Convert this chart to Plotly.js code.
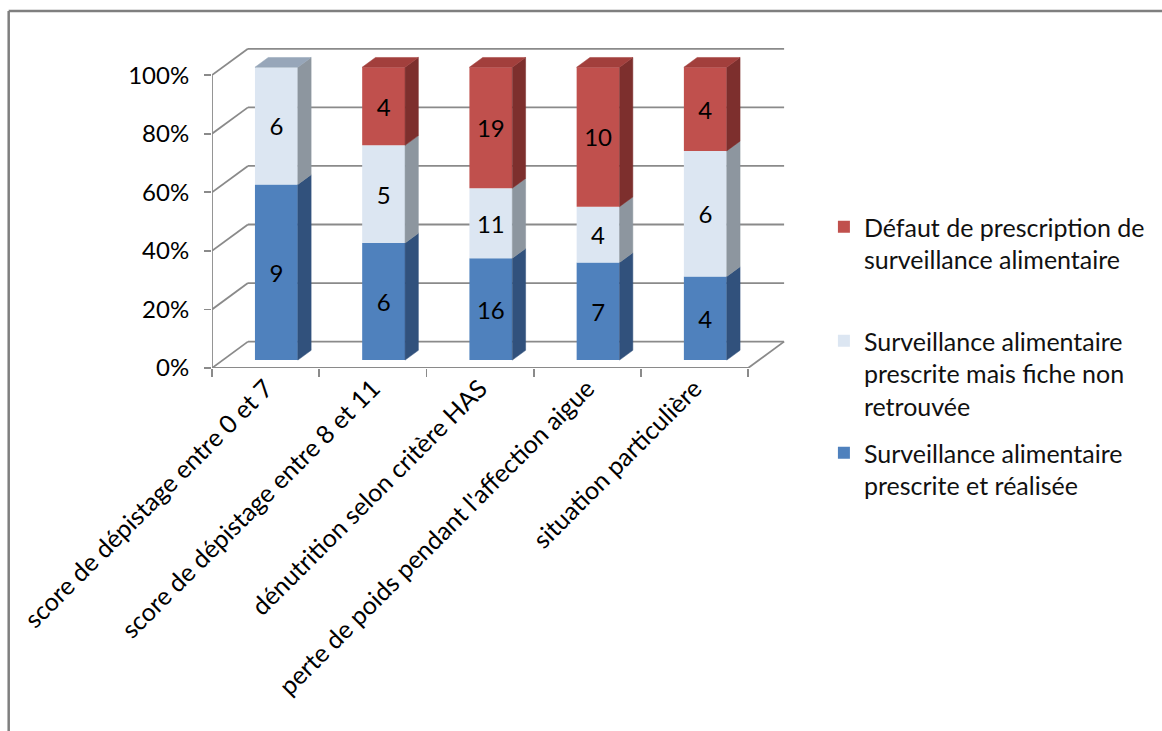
<!DOCTYPE html>
<html>
<head>
<meta charset="utf-8">
<script src="https://cdn.plot.ly/plotly-3.0.1.min.js"></script>
<style>html,body{margin:0;padding:0;background:#fff;}#chart{width:1162px;height:731px;}</style>
</head>
<body>
<div id="chart"></div>
<script>
// ---- data ----
const categories = [
  "score de dépistage entre 0 et 7",
  "score de dépistage entre 8 et 11",
  "dénutrition selon critère HAS",
  "perte de poids pendant l'affection aigue",
  "situation particulière"
];
const seriesNames = [
  "Surveillance alimentaire<br>prescrite et réalisée",
  "Surveillance alimentaire<br>prescrite mais fiche non<br>retrouvée",
  "Défaut de prescription de<br>surveillance alimentaire"
];
const realisee = [9, 6, 16, 7, 4];
const nonRetrouvee = [6, 5, 11, 4, 6];
const defaut = [0, 4, 19, 10, 4];
const yTickVals = [0, 20, 40, 60, 80, 100];
const yTickText = ["0%", "20%", "40%", "60%", "80%", "100%"];

// ---- style ----
const seriesData = [realisee, nonRetrouvee, defaut];
const frontColors = ["#4F81BD", "#DCE6F2", "#C0504D"];
const sideColors = ["#31517C", "#8D969F", "#7D2F2D"];
const topColors = ["#3F6898", "#97A6B9", "#A23F3C"];
const gridColor = "#8a8a8a";
const FONT = "Lato, 'Open Sans', sans-serif";
const W = 1162, H = 731;
const M = {l: 212, r: 362, t: 40, b: 363};
const plotW = W - M.l - M.r, plotH = H - M.t - M.b;
const DX = 0.335, DY = 9.0;      // depth offsets (data units)
const FRONT_D = 0.30, SIDE_D = 0.37, BAR_W = 0.4;
const xRange = [-0.5, -0.5 + plotW / 107.6];
const yRange = [0, 112];

const n = categories.length;
const idx = categories.map((_, i) => i);
const totals = idx.map(i => seriesData.reduce((s, arr) => s + arr[i], 0));
const pct = seriesData.map(arr => arr.map((v, i) => v / totals[i] * 100));
const cum = [];
let running = idx.map(() => 0);
pct.forEach((arr, s) => { cum.push(running.slice()); running = running.map((r, i) => r + arr[i]); });

const fx = FRONT_D * DX, fy = FRONT_D * DY;
const sx = SIDE_D * DX, sy = SIDE_D * DY;

const traces = [];
const legendNames = ["legend3", "legend2", "legend"];
// front faces (bars)
seriesData.forEach((arr, s) => {
  traces.push({
    type: "bar",
    name: seriesNames[s],
    x: idx.map(i => i + fx),
    y: pct[s],
    base: cum[s].map(c => c + fy),
    width: BAR_W,
    marker: {color: frontColors[s], line: {width: 0}},
    text: arr.map(v => v > 0 ? String(v) : ""),
    textposition: "inside",
    insidetextanchor: "middle",
    textangle: 0,
    constraintext: "none",
    textfont: {family: FONT, size: 24, color: "#000"},
    hoverinfo: "name+text",
    legend: legendNames[s]
  });
});
// side faces
seriesData.forEach((arr, s) => {
  idx.forEach(i => {
    if (arr[i] <= 0) return;
    const xr = i + fx + BAR_W / 2;
    const y0 = cum[s][i] + fy, y1 = cum[s][i] + pct[s][i] + fy;
    traces.push({
      type: "scatter", mode: "lines", fill: "toself",
      x: [xr, xr, xr + sx, xr + sx, xr],
      y: [y0, y1, y1 + sy, y0 + sy, y0],
      line: {width: 0.5, color: sideColors[s]}, fillcolor: sideColors[s],
      showlegend: false, hoverinfo: "skip"
    });
  });
});
// top faces (topmost non-zero segment)
idx.forEach(i => {
  let top = -1;
  seriesData.forEach((arr, s) => { if (arr[i] > 0) top = s; });
  const xl = i + fx - BAR_W / 2, xr = i + fx + BAR_W / 2;
  const yt = cum[top][i] + pct[top][i] + fy;
  traces.push({
    type: "scatter", mode: "lines", fill: "toself",
    x: [xl, xr, xr + sx, xl + sx, xl],
    y: [yt, yt, yt + sy, yt + sy, yt],
    line: {width: 0.5, color: topColors[top]}, fillcolor: topColors[top],
    showlegend: false, hoverinfo: "skip"
  });
});

// walls, floor, axis line as shapes under the bars
const shapes = [];
const gl = {color: gridColor, width: 1.8};
yTickVals.forEach(v => {
  shapes.push({type: "line", xref: "x", yref: "y", layer: "below",
    x0: -0.5 + DX, x1: n - 0.5 + DX, y0: v + DY, y1: v + DY, line: gl});
  shapes.push({type: "line", xref: "x", yref: "y", layer: "below",
    x0: -0.5, x1: -0.5 + DX, y0: v, y1: v + DY, line: gl});
});
shapes.push({type: "line", xref: "x", yref: "y", layer: "below",
  x0: -0.5, x1: n - 0.5, y0: 0, y1: 0, line: gl});
shapes.push({type: "line", xref: "x", yref: "y", layer: "below",
  x0: n - 0.5, x1: n - 0.5 + DX, y0: 0, y1: DY, line: gl});
shapes.push({type: "line", xref: "x", yref: "y", layer: "below",
  x0: -0.5, x1: -0.5, y0: 0, y1: 100, line: gl});
// outer frame
const pxX = p => (p - M.l) / plotW;
const pxY = p => (H - M.b - p) / plotH;
shapes.push({type: "line", xref: "paper", yref: "paper", x0: pxX(8), x1: pxX(1170), y0: pxY(11), y1: pxY(11), line: {color: "#7f7f7f", width: 2.5}});
shapes.push({type: "line", xref: "paper", yref: "paper", x0: pxX(8), x1: pxX(8), y0: pxY(11), y1: pxY(740), line: {color: "#7f7f7f", width: 2.5}});

const legendBase = {xanchor: "left", yanchor: "top", bgcolor: "rgba(0,0,0,0)", valign: "top",
  font: {family: FONT, size: 25, color: "#111"}, itemclick: false, itemdoubleclick: false};

const layout = {
  width: W, height: H,
  margin: M,
  paper_bgcolor: "#fff", plot_bgcolor: "#fff",
  barmode: "overlay",
  font: {family: FONT, size: 24, color: "#000"},
  xaxis: {
    range: xRange, showgrid: false, zeroline: false, showline: false,
    tickmode: "array", tickvals: idx, ticktext: categories, ticks: "",
    tickangle: -45, tickfont: {family: FONT, size: 25, color: "#000"},
    minor: {tickmode: "array", tickvals: idx.concat([n]).map(i => i - 0.5), ticks: "outside", ticklen: 8, tickwidth: 1.8, tickcolor: gridColor, showgrid: false},
    fixedrange: true
  },
  yaxis: {
    range: yRange, showgrid: false, zeroline: false, showline: false,
    tickmode: "array", tickvals: yTickVals, ticktext: yTickText,
    ticks: "outside", ticklen: 7, tickwidth: 1.8, tickcolor: gridColor,
    ticklabelstandoff: 10,
    tickfont: {family: FONT, size: 24, color: "#000"},
    fixedrange: true
  },
  shapes: shapes,
  legend: Object.assign({}, legendBase, {x: pxX(826), y: pxY(204)}),
  legend2: Object.assign({}, legendBase, {x: pxX(826), y: pxY(318)}),
  legend3: Object.assign({}, legendBase, {x: pxX(826), y: pxY(430)}),
  showlegend: true
};

Plotly.newPlot("chart", traces, layout, {displayModeBar: false, staticPlot: true});
</script>
</body>
</html>
